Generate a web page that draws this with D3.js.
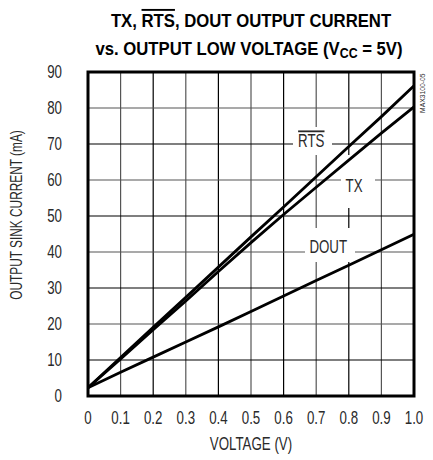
<!DOCTYPE html>
<html><head><meta charset="utf-8">
<script src="https://cdn.jsdelivr.net/npm/d3@7"></script>
<style>
body{margin:0;background:#fff;}
svg{display:block;}
text{font-family:"Liberation Sans","Arial",sans-serif;fill:#2a2a2a;}
</style></head><body>
<svg id="c" width="433" height="460"></svg>
<script>
const voltage = [0,0.1,0.2,0.3,0.4,0.5,0.6,0.7,0.8,0.9,1.0];
const rts  = [2.3,10.7,19.1,27.4,35.8,44.2,52.5,60.9,69.3,77.6,86.2];
const tx   = [2.3,10.3,18.4,26.4,34.6,42.6,50.4,58.0,65.5,73.0,80.3];
const dout = [2.3,6.6,10.8,15.0,19.2,23.5,27.8,32.1,36.3,40.6,44.9];
const xTicks = [0,0.1,0.2,0.3,0.4,0.5,0.6,0.7,0.8,0.9,1.0];
const xTickLabels = ["0","0.1","0.2","0.3","0.4","0.5","0.6","0.7","0.8","0.9","1.0"];
const yTicks = [0,10,20,30,40,50,60,70,80,90];
const seriesNames = ["RTS","TX","DOUT"];
const labelPos = [{v:0.685,i:70.7},{v:0.816,i:58.2},{v:0.737,i:41.4}];

const svg = d3.select("#c");
const L=88,R=414,T=72,B=396;
const x = d3.scaleLinear().domain([0,1]).range([L,R]);
const y = d3.scaleLinear().domain([0,90]).range([B,T]);

function txt(px,py,size,sx,anchor,str,rot){
  return svg.append("text")
    .attr("transform",`translate(${px},${py})${rot?` rotate(${rot})`:""} scale(${sx},1)`)
    .attr("text-anchor",anchor).attr("font-size",size).text(str);
}

// gridlines
const g = svg.append("g");
g.selectAll("line.v").data(xTicks.slice(1,-1)).enter().append("line")
  .attr("x1",d=>x(d)).attr("x2",d=>x(d)).attr("y1",T).attr("y2",B)
  .attr("stroke",(d,i)=>i%2?"#000":"#555").attr("stroke-width",1.2);
g.selectAll("line.h").data(yTicks.slice(1,-1)).enter().append("line")
  .attr("y1",d=>y(d)).attr("y2",d=>y(d)).attr("x1",L).attr("x2",R)
  .attr("stroke",(d,i)=>i%2?"#555":"#000").attr("stroke-width",1.2);

// label backgrounds (gaps in grid)
const gaps = [[293,127,332,155],[341,155,375,208],[305,228,355,262]];
svg.selectAll("rect.gap").data(gaps).enter().append("rect")
  .attr("x",d=>d[0]).attr("y",d=>d[1]).attr("width",d=>d[2]-d[0]).attr("height",d=>d[3]-d[1])
  .attr("fill","#fff");

// series
const line = d3.line().x((d,i)=>x(voltage[i])).y(d=>y(d));
[rts,tx,dout].forEach(s=>{
  svg.append("path").attr("d",line(s)).attr("fill","none").attr("stroke","#000").attr("stroke-width",2.8);
});

// frame
svg.append("rect").attr("x",L).attr("y",T).attr("width",R-L).attr("height",B-T)
  .attr("fill","none").attr("stroke","#000").attr("stroke-width",3);

// series labels
labelPos.forEach((p,k)=>{
  const t = txt(x(p.v),y(p.i)+6,18,0.74,"middle",seriesNames[k]);
  if(k===0){
    t.attr("text-decoration","overline");
  }
});

// tick labels
xTicks.forEach((d,i)=>txt(x(d),424,18,0.74,"middle",xTickLabels[i]));
yTicks.forEach(d=>txt(62,y(d)+6,18,0.74,"end",String(d)));

// axis titles
txt((L+R)/2,450,18,0.74,"middle","VOLTAGE (V)");
txt(22,215,16.5,0.72,"middle","OUTPUT SINK CURRENT (mA)",-90);

// title
const t1 = svg.append("text").attr("transform","translate(251,27) scale(0.88,1)").attr("text-anchor","middle")
  .attr("font-size",19).attr("font-weight","bold").style("fill","#000");
t1.append("tspan").text("TX, ");
t1.append("tspan").attr("text-decoration","overline").text("RTS");
t1.append("tspan").text(", DOUT OUTPUT CURRENT");
const t2 = svg.append("text").attr("transform","translate(249,55) scale(0.88,1)").attr("text-anchor","middle")
  .attr("font-size",19).attr("font-weight","bold").style("fill","#000");
t2.append("tspan").text("vs. OUTPUT LOW VOLTAGE (V");
t2.append("tspan").attr("font-size",14).attr("dy",3).text("CC");
t2.append("tspan").attr("dy",-3).text(" = 5V)");

// side code
txt(425,113,8,0.85,"start","MAX3100-05",-90);
</script>
</body></html>
